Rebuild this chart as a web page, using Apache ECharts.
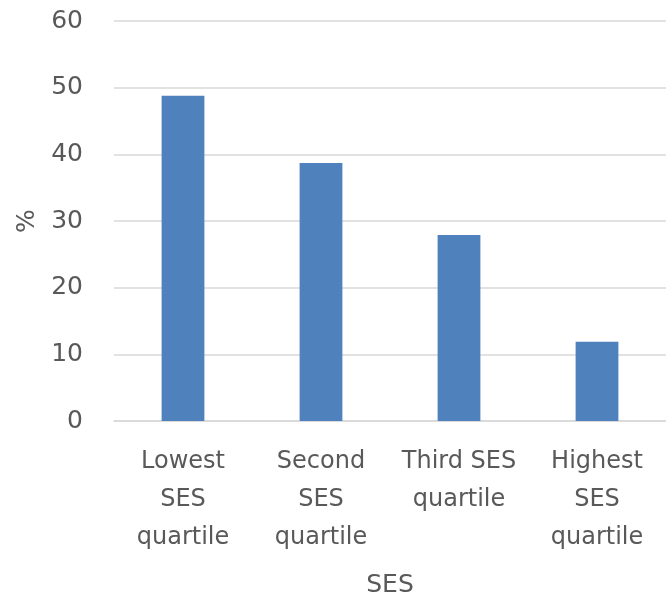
<!DOCTYPE html>
<html>
<head>
<meta charset="utf-8">
<script src="https://cdn.jsdelivr.net/npm/echarts@6/dist/echarts.min.js"></script>
<style>
  html, body { margin: 0; padding: 0; background: #fff; }
  #main { width: 666px; height: 603px; }
</style>
</head>
<body>
<div id="main"></div>
<script>
// categories and values
const categories = ['Lowest\nSES\nquartile', 'Second\nSES\nquartile', 'Third SES\nquartile', 'Highest\nSES\nquartile']
const values = [48.8, 38.7, 27.9, 11.9]
const yTicks = { min: 0, max: 60, interval: 10 }

const textColor = '#595959'
const gridColor = '#d9d9d9'
const fontName = 'DejaVu Sans'

const myChart = echarts.init(document.getElementById('main'))
myChart.setOption({
  backgroundColor: '#fff',
  animation: false,
  grid: { left: 114, right: 0, top: 21, bottom: 182 },
  xAxis: {
    type: 'category',
    data: categories,
    name: 'SES',
    nameLocation: 'middle',
    nameGap: 152,
    nameTextStyle: { color: textColor, fontSize: 25, fontFamily: fontName },
    axisLine: { lineStyle: { color: gridColor, width: 1.5 } },
    axisTick: { show: false },
    axisLabel: {
      color: textColor,
      fontSize: 24,
      fontFamily: fontName,
      lineHeight: 38,
      margin: 22,
      interval: 0
    }
  },
  yAxis: {
    type: 'value',
    min: yTicks.min,
    max: yTicks.max,
    interval: yTicks.interval,
    name: '%',
    nameLocation: 'middle',
    nameRotate: 90,
    nameGap: 72,
    nameTextStyle: { color: textColor, fontSize: 25, fontFamily: fontName },
    axisLine: { show: false },
    axisTick: { show: false },
    axisLabel: { color: textColor, fontSize: 25, fontFamily: fontName, margin: 31 },
    splitLine: { lineStyle: { color: gridColor, width: 1.5 } }
  },
  series: [{
    type: 'bar',
    data: values,
    barWidth: '31%',
    itemStyle: { color: '#4f81bd' }
  }]
})
</script>
</body>
</html>
